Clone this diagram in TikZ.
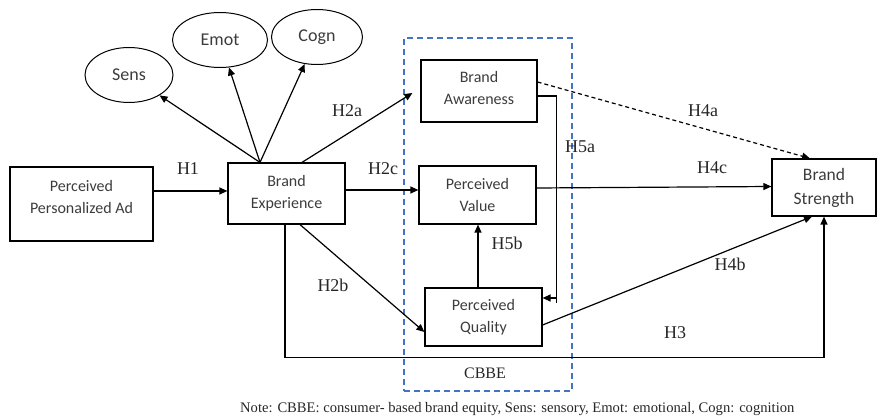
\documentclass[tikz,border=0pt]{standalone}
\usepackage{fontspec}
\setmainfont{Liberation Serif}
\newfontfamily\boxfont{Carlito}
\usetikzlibrary{arrows.meta,calc,shapes.geometric}
\definecolor{cbbeblue}{RGB}{68,114,196}
\definecolor{boxtxt}{RGB}{60,60,60}
\begin{document}
\begin{tikzpicture}[x=1pt,y=-1pt,
  bx/.style={draw,line width=1.2pt,align=center,inner sep=0pt,text=boxtxt,
    font=\boxfont\fontsize{16}{22}\selectfont},
  boxtext/.style={align=center,inner sep=0pt,text=boxtxt,font=\boxfont\fontsize{16}{22}\selectfont},
  ell/.style={draw,ellipse,line width=1pt,inner sep=0pt,text=boxtxt,
    font=\boxfont\fontsize{18}{20}\selectfont},
  hl/.style={inner sep=0pt,text=black!85,font=\fontsize{18}{20}\selectfont},
  line/.style={line width=1.2pt},
  conn/.style={line width=1.2pt,-{Triangle[length=8pt,width=7pt]}}]
\useasboundingbox (0,0) rectangle (879,419);
% CBBE dashed frame
\node[draw=cbbeblue,line width=1.2pt,dash pattern=on 6pt off 4pt,
  minimum width=168pt,minimum height=353pt,inner sep=0pt] (cbbe) at (488,214.5) {};
% boxes
\node[bx,minimum width=143pt,minimum height=74pt] (ppa) at (81.5,204) {};
\node[boxtext] (ppat) at (81.5,197.5) {Perceived\\Personalized Ad};
\node[bx,minimum width=117pt,minimum height=61pt] (be) at (286.5,193.5) {Brand\\Experience};
\node[bx,minimum width=116pt,minimum height=62pt] (ba) at (479,91) {};
\node[boxtext] (bat) at (479,88.5) {Brand\\Awareness};
\node[bx,minimum width=117pt,minimum height=58pt] (pv) at (477.5,195) {Perceived\\Value};
\node[bx,minimum width=117pt,minimum height=58pt] (pq) at (483.5,317) {Perceived\\Quality};
\node[bx,minimum width=104pt,minimum height=57pt,
  font=\boxfont\fontsize{17.5}{24}\selectfont] (bs) at (824,187.5) {Brand\\Strength};
% ellipses
\node[ell,minimum width=88pt,minimum height=55pt] (sens) at (129,75) {Sens};
\node[ell,minimum width=95pt,minimum height=55pt] (emot) at (220,40) {Emot};
\node[ell,minimum width=91pt,minimum height=55pt] (cogn) at (317,37) {Cogn};
% connectors
\coordinate (bet) at ($(be.north)+(-26.5,0)$);
\draw[conn] (bet) -- (sens);
\draw[conn] (bet) -- (emot);
\draw[conn] (bet) -- (cogn);
\draw[conn] ($(ppa.east)+(0,-13)$) -- ($(be.west)+(0,-2.5)$);
\draw[conn] ($(be.north)+(15.5,0)$) -- ($(ba.west)+(-8,2)$);
\draw[conn] ($(be.east)+(0,-3.5)$) -- ($(pv.west)+(0,-5)$);
\draw[conn] ($(be.south)+(13.5,0)$) -- ($(pq.west)+(0,15)$);
\draw[conn] ($(be.south)+(-1.5,0)$) -- ++(0,133) -| (bs.south);
\draw[conn] ($(pq.north)+(-5.5,0)$) -- ($(pv.south)+(0.5,0)$);
\draw[line] ($(ba.east)+(0,5)$) -- ++(19,0) -- ++(0,207);
\draw[conn] ($(pq.east)+(14,-19)$) -- ($(pq.east)+(0,-19)$);
\draw[conn,dash pattern=on 4pt off 3pt] ($(ba.east)+(0,-9)$) -- ($(bs.north)+(-14,0)$);
\draw[conn] ($(pv.east)+(0,-7)$) -- ($(bs.west)+(0,-1)$);
\draw[conn] ($(pq.east)+(0,8)$) -- ($(bs.south)+(-12,0)$);
% labels
\node[hl] (lh1) at (188,169) {H1};
\node[hl] (lh2a) at (347,111) {H2a};
\node[hl] (lh2c) at (383,169) {H2c};
\node[hl] (lh5a) at (580,147) {H5a};
\node[hl] (lh4a) at (703,111) {H4a};
\node[hl] (lh4c) at (712,168) {H4c};
\node[hl] (lh5b) at (507,243) {H5b};
\node[hl] (lh2b) at (333,285) {H2b};
\node[hl] (lh4b) at (730,264) {H4b};
\node[hl] (lh3) at (675,333) {H3};
\node[inner sep=0pt,text=black!85,font=\fontsize{16}{18}\selectfont] (lcbbe) at (485,373) {CBBE};
\node[inner sep=0pt,anchor=west,text=black!85,font=\fontsize{14.6}{16}\selectfont] (note) at (240,409)
  {Note: CBBE: consumer- based brand equity, Sens: sensory, Emot: emotional, Cogn: cognition};
\end{tikzpicture}
\end{document}
